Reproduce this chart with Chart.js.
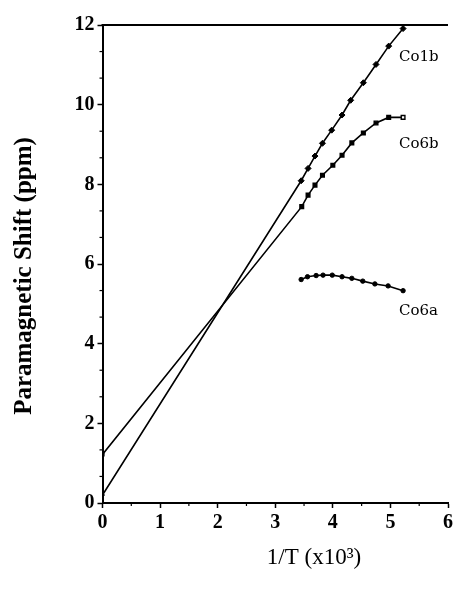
<!DOCTYPE html>
<html>
<head>
<meta charset="utf-8">
<script src="https://cdn.jsdelivr.net/npm/chart.js@4.4.1/dist/chart.umd.min.js"></script>
<style>
  html, body { margin: 0; padding: 0; background: #fff; }
  #wrap { width: 457px; height: 589px; }
</style>
</head>
<body>
<div id="wrap"><canvas id="c" width="457" height="589"></canvas></div>
<script>
// ---- data ----
const seriesNames = ["Co1b", "Co6b", "Co6a"];
const co1bX = [3.45, 3.57, 3.69, 3.82, 3.98, 4.16, 4.31, 4.53, 4.75, 4.97, 5.22];
const co1bY = [8.09, 8.40, 8.71, 9.03, 9.36, 9.74, 10.11, 10.55, 11.01, 11.47, 11.91];
const co6bX = [3.46, 3.57, 3.69, 3.82, 4.00, 4.16, 4.33, 4.53, 4.75, 4.97, 5.22];
const co6bY = [7.44, 7.73, 7.98, 8.23, 8.48, 8.73, 9.04, 9.29, 9.54, 9.68, 9.68];
const co6aX = [3.45, 3.56, 3.71, 3.83, 3.99, 4.16, 4.33, 4.52, 4.73, 4.96, 5.22];
const co6aY = [5.61, 5.68, 5.71, 5.72, 5.72, 5.68, 5.64, 5.57, 5.50, 5.45, 5.33];
// straight-line extrapolations to 1/T = 0 (intercepts)
const interceptCo1b = 0.2;
const interceptCo6b = 1.22;
const xTicks = [0, 1, 2, 3, 4, 5, 6];
const yTicks = [0, 2, 4, 6, 8, 10, 12];
const labelPos = { Co1b: [5.15, 11.2], Co6b: [5.15, 9.0], Co6a: [5.15, 4.82] };

function pts(xs, ys, x0y) {
  const out = [];
  if (x0y !== undefined) out.push({ x: 0, y: x0y });
  xs.forEach((x, i) => out.push({ x: x, y: ys[i] }));
  return out;
}

const extras = {
  id: 'extras',
  afterDraw(chart) {
    const ctx = chart.ctx;
    const a = chart.chartArea;
    const xs = chart.scales.x, ys = chart.scales.y;
    ctx.save();
    ctx.strokeStyle = '#000';
    // top frame line
    ctx.lineWidth = 2;
    ctx.beginPath();
    ctx.moveTo(a.left - 1, a.top);
    ctx.lineTo(a.right, a.top);
    ctx.stroke();
    // minor ticks
    ctx.lineWidth = 1.2;
    for (let v = 0.5; v < 6; v += 1) {
      const px = xs.getPixelForValue(v);
      ctx.beginPath(); ctx.moveTo(px, a.bottom); ctx.lineTo(px, a.bottom + 3); ctx.stroke();
    }
    for (let i = 1; i < 18; i++) {
      if (i % 3 === 0) continue;
      const py = ys.getPixelForValue(i * 2 / 3);
      ctx.beginPath(); ctx.moveTo(a.left, py); ctx.lineTo(a.left - 3, py); ctx.stroke();
    }
    // series labels
    ctx.fillStyle = '#000';
    ctx.font = '15px "DejaVu Serif"';
    ctx.textAlign = 'left';
    ctx.textBaseline = 'middle';
    seriesNames.forEach(n => {
      const p = labelPos[n];
      ctx.fillText(n, xs.getPixelForValue(p[0]), ys.getPixelForValue(p[1]));
    });
    // axis titles
    ctx.font = 'bold 25px "Liberation Serif"';
    ctx.textAlign = 'center';
    ctx.textBaseline = 'middle';
    ctx.save();
    ctx.translate(25, 276);
    ctx.rotate(-Math.PI / 2);
    ctx.fillText('Paramagnetic Shift (ppm)', 0, 0);
    ctx.restore();
    ctx.font = '23px "Liberation Serif"';
    ctx.fillText('1/T (x10\u00B3)', 314, 558);
    ctx.restore();
  }
};

new Chart(document.getElementById('c'), {
  type: 'scatter',
  data: {
    datasets: [
      {
        label: seriesNames[0],
        data: pts(co1bX, co1bY, interceptCo1b),
        showLine: true,
        borderColor: '#000',
        borderWidth: 1.6,
        backgroundColor: '#000',
        pointStyle: 'rectRot',
        pointRadius: (c) => c.dataIndex === 0 ? 2 : 3,
        pointBorderWidth: 1,
        pointBorderColor: '#000',
        pointBackgroundColor: '#000'
      },
      {
        label: seriesNames[1],
        data: pts(co6bX, co6bY, interceptCo6b),
        showLine: true,
        borderColor: '#000',
        borderWidth: 1.6,
        pointStyle: 'rect',
        pointRadius: (c) => c.dataIndex === 0 ? 2 : 2.6,
        pointBorderWidth: 1.4,
        pointBorderColor: '#000',
        pointBackgroundColor: (c) => c.dataIndex === co6bX.length ? '#fff' : '#000'
      },
      {
        label: seriesNames[2],
        data: pts(co6aX, co6aY),
        showLine: true,
        borderColor: '#000',
        borderWidth: 1.6,
        pointStyle: 'circle',
        pointRadius: 2.2,
        pointBorderWidth: 1,
        pointBorderColor: '#000',
        pointBackgroundColor: '#000'
      }
    ]
  },
  options: {
    responsive: false,
    animation: false,
    events: [],
    layout: { padding: { left: 0, right: 9, top: 25, bottom: 0 } },
    plugins: { legend: { display: false }, tooltip: { enabled: false } },
    scales: {
      x: {
        type: 'linear', min: 0, max: 6,
        afterFit: (s) => { s.height = 86; },
        afterBuildTicks: (s) => { s.ticks = xTicks.map(v => ({ value: v })); },
        ticks: { color: '#000', font: { family: 'Liberation Serif', size: 20, weight: 'bold' }, padding: 3 },
        grid: { drawOnChartArea: false, drawTicks: true, tickLength: 5, tickWidth: 1.5, tickColor: '#000' },
        border: { display: true, color: '#000', width: 2 }
      },
      y: {
        type: 'linear', min: 0, max: 12,
        afterFit: (s) => { s.width = 102.5; },
        afterBuildTicks: (s) => { s.ticks = yTicks.map(v => ({ value: v })); },
        ticks: { color: '#000', font: { family: 'Liberation Serif', size: 20, weight: 'bold' }, padding: 3 },
        grid: { drawOnChartArea: false, drawTicks: true, tickLength: 5, tickWidth: 1.5, tickColor: '#000' },
        border: { display: true, color: '#000', width: 2 }
      }
    }
  },
  plugins: [extras]
});
</script>
</body>
</html>
